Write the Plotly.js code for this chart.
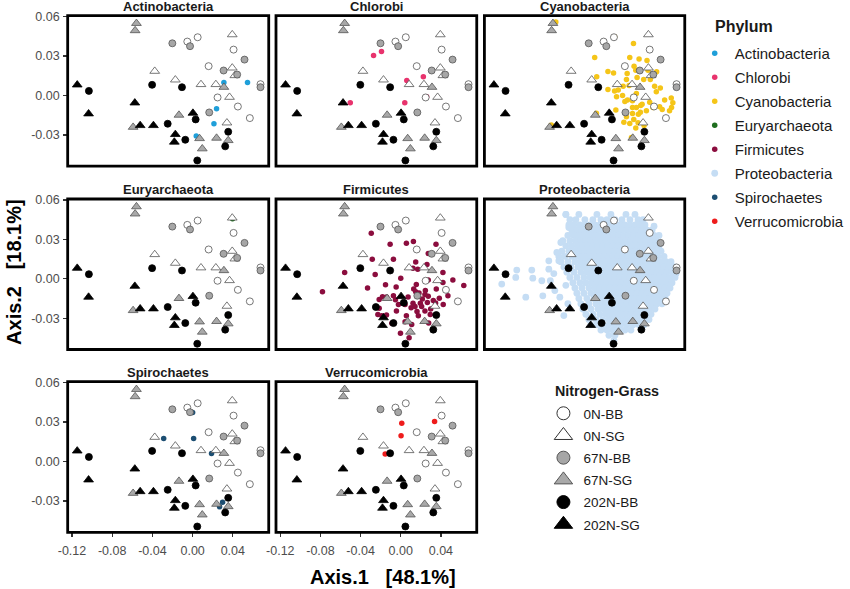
<!DOCTYPE html>
<html><head><meta charset="utf-8">
<script src="https://cdn.plot.ly/plotly-3.0.1.min.js"></script>
<style>html,body{margin:0;padding:0;background:#fff}#chart{width:850px;height:589px}</style>
</head><body><div id="chart"></div>
<script>
// ---------- categories / ticks ----------
const phyla = ['Actinobacteria','Chlorobi','Cyanobacteria','Euryarchaeota','Firmicutes','Proteobacteria','Spirochaetes','Verrucomicrobia'];
const phylumColors = ['#1F9FD9','#E8336D','#F5C518','#1F6E1F','#8B0D3E','#C5DDF4','#1C4E72','#EE1C1C'];
const groups = ['0N-BB','0N-SG','67N-BB','67N-SG','202N-BB','202N-SG'];
const xTickVals = [-0.12,-0.08,-0.04,0,0.04];
const xTickText = ['-0.12','-0.08','-0.04','0.00','0.04'];
const yTickVals = [-0.03,0,0.03,0.06];
const yTickText = ['-0.03','0.00','0.03','0.06'];
const xTitle = 'Axis.1   [48.1%]';
const yTitle = 'Axis.2   [18.1%]';

// ---------- samples (same in every panel) ----------
const s0NBBx = [-0.0053,0.0050,0.0407,0.0159,0.0675,0.0248,0.0450,0.0569];
const s0NBBy = [0.0410,0.0443,0.0349,0.0223,0.0086,-0.0015,-0.0084,-0.0172];
const s0NSGx = [0.0394,0.0394,0.0420,-0.0377,-0.0172,0.0083,0.0231,0.0367,0.0341];
const s0NSGy = [0.0463,0.0210,0.0152,0.0185,0.0119,0.0084,0.0084,-0.0013,-0.0208];
const s67NBBx = [-0.0202,-0.0026,0.0516,0.0308,0.0443,0.0675,0.0165];
const s67NBBy = [0.0397,0.0375,0.0273,0.0190,0.0159,0.0063,-0.0129];
const s67NSGx = [-0.0559,-0.0572,0.0311,-0.0136,-0.0592,0.0069,0.0096,0.0238,0.0354];
const s67NSGy = [0.0549,0.0494,0.0063,-0.0149,-0.0241,-0.0327,-0.0405,-0.0324,-0.0342];
const s202NBBx = [-0.0403,-0.0106,-0.1032,0.0030,-0.0248,-0.0073,0.0354,0.0324,0.0046];
const s202NBBy = [0.0081,0.0063,0.0035,-0.0182,-0.0215,-0.0337,-0.0276,-0.0387,-0.0494];
const s202NSGx = [-0.1148,-0.1035,-0.0575,0.0003,-0.0522,-0.0390,-0.0172,-0.0182];
const s202NSGy = [0.0081,-0.0139,-0.0056,-0.0134,-0.0228,-0.0228,-0.0296,-0.0354];

// ---------- taxa per phylum ----------
const actinoX = [0.0311,0.0546,0.0245,0.0238,0.0212,0.0036];
const actinoY = [0.0099,0.0099,-0.0013,-0.0101,-0.0215,-0.0309];
const chloroX = [0.0056,-0.0192,-0.0271,0.0225,0.0060,0.0258,0.0040,-0.0503];
const chloroY = [0.0441,0.0334,0.0304,0.0142,0.0114,-0.0010,-0.0056,-0.0056];
const cyanoX = [0.0056,0.0245,-0.0142,0.0208,0.0301,0.0380,0.0162,0.0251,-0.0010,0.0046,-0.0122,0.0182,0.0268,0.0390,0.0476,0.0175,0.0281,0.0347,0.0413,0.0202,0.0142,0.0093,-0.0010,0.0056,0.0456,0.0513,0.0671,0.0076,0.0136,0.0274,0.0473,0.0185,0.0235,0.0159,0.0331,0.0407,0.0556,0.0622,0.0638,0.0235,0.0274,0.0317,0.0374,0.0440,0.0506,0.0625,0.0069,0.0314,0.0235,0.0532,0.0605,0.0175,0.0248,0.0294,0.0572,0.0208,0.0291,0.0268,0.0351,0.0149,-0.0125,0.0225,-0.0575,-0.0530];
const cyanoY = [0.0446,0.0395,0.0289,0.0289,0.0278,0.0266,0.0223,0.0223,0.0182,0.0172,0.0142,0.0167,0.0192,0.0192,0.0180,0.0122,0.0137,0.0122,0.0122,0.0076,0.0071,0.0041,0.0046,0.0035,0.0071,0.0056,0.0086,-0.0010,0.0000,0.0015,0.0028,-0.0035,-0.0041,-0.0046,-0.0066,-0.0051,-0.0035,-0.0020,-0.0056,-0.0091,-0.0091,-0.0076,-0.0116,-0.0091,-0.0086,-0.0091,-0.0111,-0.0127,-0.0137,-0.0106,-0.0116,-0.0162,-0.0182,-0.0142,-0.0172,-0.0213,-0.0208,-0.0248,-0.0228,-0.0203,-0.0135,-0.0319,-0.0225,0.0560];
const euryX = [0.0397,0.0354];
const euryY = [0.0456,-0.0276];
const firmX = [-0.0294,-0.0106,0.0056,0.0126,0.0351,0.0274,-0.0284,-0.0073,0.0149,0.0261,0.0122,0.0169,0.0420,-0.0559,-0.0255,0.0000,0.0274,0.0519,0.0628,0.0155,-0.0152,-0.0046,-0.0331,-0.0780,0.0129,0.0245,0.0182,0.0241,0.0274,0.0470,-0.0215,-0.0182,-0.0053,0.0073,0.0122,0.0195,0.0265,0.0324,0.0384,0.0423,-0.0023,-0.0215,0.0103,0.0142,0.0162,0.0241,0.0298,0.0294,0.0354,-0.0043,-0.0142,-0.0188,0.0175,0.0043,0.0109,0.0278,-0.0003,0.0083,-0.0089,-0.0142,0.0043,0.0215,0.0208,0.0149,0.0420,0.0347,-0.0073,-0.0228,0.0056,0.0354];
const firmY = [0.0347,0.0263,0.0271,0.0284,0.0263,0.0192,0.0149,0.0149,0.0127,0.0109,0.0081,0.0073,0.0048,0.0048,0.0033,0.0005,-0.0010,-0.0010,-0.0051,-0.0043,-0.0046,-0.0063,-0.0071,-0.0099,-0.0078,-0.0089,-0.0109,-0.0119,-0.0132,-0.0129,-0.0157,-0.0137,-0.0159,-0.0139,-0.0187,-0.0187,-0.0180,-0.0165,-0.0149,-0.0195,-0.0195,-0.0225,-0.0220,-0.0210,-0.0248,-0.0246,-0.0230,-0.0271,-0.0273,-0.0246,-0.0276,-0.0281,-0.0281,-0.0327,-0.0347,-0.0337,-0.0415,-0.0448,-0.0339,-0.0139,-0.0195,-0.0154,-0.0210,-0.0099,-0.0028,-0.0185,-0.0129,-0.0271,-0.0281,-0.0078];
// Proteobacteria: dense cloud, read row by row (y level -> x positions)
const protRowY = [0.049,0.045,0.041,0.037,0.033,0.029,0.025,0.021,0.017,0.013,0.009,0.005,0.001,-0.003,-0.007,-0.011,-0.015,-0.019,-0.023,-0.027,-0.031,-0.035,-0.039,-0.043];
const protRowX = [
 [-0.043,-0.030,-0.012,0.002,0.017,0.026],
 [-0.039,-0.033,-0.024,-0.016,-0.008,-0.002,0.006,0.013,0.021,0.029,0.034],
 [-0.040,-0.035,-0.029,-0.024,-0.019,-0.014,-0.009,-0.004,0.001,0.006,0.011,0.016,0.021,0.026,0.031,0.036],
 [-0.037,-0.032,-0.027,-0.022,-0.017,-0.012,-0.007,-0.002,0.003,0.008,0.013,0.018,0.023,0.028,0.033,0.038,0.043],
 [-0.041,-0.035,-0.030,-0.025,-0.020,-0.015,-0.010,-0.005,0.000,0.005,0.010,0.015,0.020,0.025,0.030,0.035,0.040,0.045],
 [-0.046,-0.039,-0.033,-0.028,-0.023,-0.018,-0.013,-0.008,-0.003,0.002,0.007,0.012,0.017,0.022,0.027,0.032,0.037,0.042,0.047],
 [-0.043,-0.037,-0.031,-0.026,-0.021,-0.016,-0.011,-0.006,-0.001,0.004,0.009,0.014,0.019,0.024,0.029,0.034,0.039,0.044,0.050],
 [-0.047,-0.040,-0.034,-0.029,-0.024,-0.019,-0.014,-0.009,-0.004,0.001,0.006,0.011,0.016,0.021,0.026,0.031,0.036,0.041,0.046,0.052],
 [-0.050,-0.044,-0.037,-0.031,-0.026,-0.021,-0.016,-0.011,-0.006,-0.001,0.004,0.009,0.014,0.019,0.024,0.029,0.034,0.039,0.044,0.049,0.055],
 [-0.048,-0.041,-0.034,-0.028,-0.023,-0.018,-0.013,-0.008,-0.003,0.002,0.007,0.012,0.017,0.022,0.027,0.032,0.037,0.042,0.047,0.052,0.057,0.062],
 [-0.045,-0.038,-0.031,-0.025,-0.020,-0.015,-0.010,-0.005,0.000,0.005,0.010,0.015,0.020,0.025,0.030,0.035,0.040,0.045,0.050,0.055,0.060,0.066],
 [-0.042,-0.035,-0.028,-0.022,-0.017,-0.012,-0.007,-0.002,0.003,0.008,0.013,0.018,0.023,0.028,0.033,0.038,0.043,0.048,0.053,0.058,0.063],
 [-0.039,-0.032,-0.025,-0.019,-0.014,-0.009,-0.004,0.001,0.006,0.011,0.016,0.021,0.026,0.031,0.036,0.041,0.046,0.051,0.056,0.061,0.066],
 [-0.036,-0.029,-0.023,-0.017,-0.012,-0.007,-0.002,0.003,0.008,0.013,0.018,0.023,0.028,0.033,0.038,0.043,0.048,0.053,0.058,0.063],
 [-0.034,-0.027,-0.020,-0.014,-0.009,-0.004,0.001,0.006,0.011,0.016,0.021,0.026,0.031,0.036,0.041,0.046,0.051,0.056,0.061],
 [-0.032,-0.025,-0.018,-0.012,-0.007,-0.002,0.003,0.008,0.013,0.018,0.023,0.028,0.033,0.038,0.043,0.048,0.053,0.058],
 [-0.030,-0.022,-0.015,-0.009,-0.004,0.001,0.006,0.011,0.016,0.021,0.026,0.031,0.036,0.041,0.046,0.051,0.056],
 [-0.028,-0.020,-0.013,-0.007,-0.002,0.003,0.008,0.013,0.018,0.023,0.028,0.033,0.038,0.043,0.048,0.053],
 [-0.026,-0.018,-0.011,-0.005,0.000,0.005,0.010,0.015,0.020,0.025,0.030,0.035,0.040,0.046],
 [-0.023,-0.016,-0.009,-0.003,0.002,0.007,0.012,0.017,0.022,0.027,0.032,0.037,0.042],
 [-0.020,-0.013,-0.006,0.000,0.005,0.010,0.015,0.020,0.025,0.030,0.035,0.040],
 [-0.018,-0.012,-0.006,0.000,0.006,0.012,0.018,0.024,0.030,0.035],
 [-0.008,-0.002,0.004,0.010,0.016,0.022],
 [0.000,0.006]
];
const protOutX = [-0.107,-0.092,-0.093,-0.083,-0.077,-0.076,-0.067,-0.066,-0.060,-0.060,-0.0585,-0.054,-0.049,-0.048,-0.043,-0.045,-0.041,-0.050,-0.040,-0.043,-0.037,-0.052,-0.055,0.005,0.067,0.045,0.050];
const protOutY = [-0.004,0.0066,0.001,-0.014,0.0066,0.0005,-0.0015,-0.013,0.0073,0.0137,-0.0015,-0.009,-0.014,0.0276,-0.005,-0.028,-0.019,0.0137,0.039,0.049,0.034,0.020,0.004,-0.047,0.004,0.040,0.033];
const spiroX = [0.0000,-0.0288,0.0010,0.0188,0.0298,0.0268];
const spiroY = [0.0372,0.0175,0.0175,0.0061,-0.0309,-0.0344];
const verruX = [0.0010,0.0337,0.0003,-0.0155];
const verruY = [0.0291,0.0304,0.0197,0.0058];

// ---------- build tables ----------
const protX = [], protY = [];
protRowY.forEach((y, i) => protRowX[i].forEach(x => { protX.push(x); protY.push(y); }));
protOutX.forEach((x, i) => { protX.push(x); protY.push(protOutY[i]); });
const phylumX = [actinoX, chloroX, cyanoX, euryX, firmX, protX, spiroX, verruX];
const phylumY = [actinoY, chloroY, cyanoY, euryY, firmY, protY, spiroY, verruY];

const groupX = [s0NBBx, s0NSGx, s67NBBx, s67NSGx, s202NBBx, s202NSGx];
const groupY = [s0NBBy, s0NSGy, s67NBBy, s67NSGy, s202NBBy, s202NSGy];
const groupSymbol = ['circle','triangle-up','circle','triangle-up','circle','triangle-up'];
const groupFill = ['#FFFFFF','#FFFFFF','#A6A6A6','#A9A9A9','#000000','#000000'];
const groupLine = ['#555555','#555555','#555555','#555555','#000000','#000000'];
const groupSize = [7, 8.5, 7, 8.5, 7, 8.5];

const FONT = 'Liberation Sans, Arial, sans-serif';
const W = 850, H = 589;
const colPx = [[68,270],[277.3,479],[486.7,688]];
const rowPx = [[15.7,166.2],[199,349.5],[381.7,532.3]];
const panelPos = [[0,0],[0,1],[0,2],[1,0],[1,1],[1,2],[2,0],[2,1]];

const sx = [], sy = [], ssym = [], sfill = [], sline = [], ssize = [];
groups.forEach((g, gi) => {
  groupX[gi].forEach((x, k) => {
    sx.push(x); sy.push(groupY[gi][k]); ssym.push(groupSymbol[gi]);
    sfill.push(groupFill[gi]); sline.push(groupLine[gi]); ssize.push(groupSize[gi]);
  });
});

const traces = [];
const layout = {
  width: W, height: H, margin: {l:0, r:0, t:0, b:0},
  paper_bgcolor: '#fff', plot_bgcolor: 'rgba(0,0,0,0)',
  font: {family: FONT, color: '#1a1a1a'},
  showlegend: true,
  shapes: [], annotations: [],
  legend: {x: 698/W, xanchor: 'left', y: 1 - 37/H, yanchor: 'top',
    font: {size: 15, family: FONT, color: '#1a1a1a'}, tracegroupgap: 1.5,
    bgcolor: 'rgba(0,0,0,0)', borderwidth: 0, itemclick: false, itemdoubleclick: false},
  legend2: {x: 546/W, xanchor: 'left', y: 1 - 398/H, yanchor: 'top',
    font: {size: 13.5, family: FONT, color: '#1a1a1a'}, tracegroupgap: 1.65,
    bgcolor: 'rgba(0,0,0,0)', borderwidth: 0, itemclick: false, itemdoubleclick: false}
};

panelPos.forEach((rc, i) => {
  const [r, c] = rc;
  const n = i === 0 ? '' : String(i + 1);
  const xa = 'xaxis' + n, ya = 'yaxis' + n;
  const showY = c === 0, showX = r === 2;
  layout[xa] = {
    domain: [colPx[c][0]/W, colPx[c][1]/W], range: [-0.1243, 0.0757],
    anchor: 'y' + n, showgrid: false, zeroline: false, showline: false,
    tickvals: xTickVals, ticktext: xTickText,
    ticks: showX ? 'outside' : '', ticklen: 3.5, tickwidth: 1.2, tickcolor: '#333',
    showticklabels: showX, ticklabelstandoff: 3,
    tickfont: {size: 12.5, family: FONT, color: '#4D4D4D'}
  };
  layout[ya] = {
    domain: [1 - rowPx[r][1]/H, 1 - rowPx[r][0]/H], range: [-0.0538, 0.0607],
    anchor: 'x' + n, showgrid: false, zeroline: false, showline: false,
    tickvals: yTickVals, ticktext: yTickText,
    ticks: showY ? 'outside' : '', ticklen: 3.5, tickwidth: 1.2, tickcolor: '#333',
    showticklabels: showY, ticklabelstandoff: 1,
    tickfont: {size: 12.5, family: FONT, color: '#4D4D4D'}
  };
  layout.shapes.push({type: 'rect', xref: 'x' + n + ' domain', yref: 'y' + n + ' domain',
    x0: 0, x1: 1, y0: 0, y1: 1, line: {color: '#000', width: 2.8}, layer: 'above'});
  layout.annotations.push({text: '<b>' + phyla[i] + '</b>', xref: 'paper', yref: 'paper',
    x: (colPx[c][0] + colPx[c][1]) / 2 / W, y: 1 - (rowPx[r][0] - 9) / H,
    xanchor: 'center', yanchor: 'middle', showarrow: false,
    font: {size: 13, family: FONT, color: '#1a1a1a'}});

  traces.push({type: 'scatter', mode: 'markers', x: phylumX[i], y: phylumY[i],
    xaxis: 'x' + n, yaxis: 'y' + n, name: phyla[i], legend: 'legend', legendgroup: phyla[i],
    showlegend: true, hoverinfo: 'skip',
    marker: {color: phylumColors[i], size: i === 5 ? 6.8 : 5.5, opacity: 1, line: {width: 0}}});
  traces.push({type: 'scatter', mode: 'markers', x: sx, y: sy,
    xaxis: 'x' + n, yaxis: 'y' + n, showlegend: false, hoverinfo: 'skip',
    marker: {symbol: ssym, color: sfill, size: ssize, opacity: 1, line: {color: sline, width: 0.8}}});
});

// legend entries for sample groups (legend only)
const legendSizes = [13, 16, 13, 16, 13, 16];
groups.forEach((g, gi) => {
  traces.push({type: 'scatter', mode: 'markers', x: [null], y: [null], xaxis: 'x', yaxis: 'y',
    name: g, legend: 'legend2', legendgroup: g, showlegend: true, hoverinfo: 'skip',
    marker: {symbol: groupSymbol[gi], color: groupFill[gi], size: legendSizes[gi], opacity: 1,
      line: {color: gi < 2 ? '#333' : groupLine[gi], width: 1}}});
});

layout.annotations.push(
  {text: '<b>' + xTitle.replace(/ /g, '\u00A0') + '</b>', xref: 'paper', yref: 'paper',
   x: 385/W, y: 1 - 577/H, xanchor: 'center', yanchor: 'middle', showarrow: false,
   font: {size: 20, family: FONT, color: '#000'}},
  {text: '<b>' + yTitle.replace(/ /g, '\u00A0') + '</b>', xref: 'paper', yref: 'paper',
   x: 14/W, y: 1 - 272/H, xanchor: 'center', yanchor: 'middle', showarrow: false, textangle: -90,
   font: {size: 20, family: FONT, color: '#000'}},
  {text: '<b>Phylum</b>', xref: 'paper', yref: 'paper', x: 716/W, y: 1 - 27/H,
   xanchor: 'left', yanchor: 'middle', showarrow: false,
   font: {size: 16, family: FONT, color: '#1a1a1a'}},
  {text: '<b>Nitrogen-Grass</b>', xref: 'paper', yref: 'paper', x: 556/W, y: 1 - 391/H,
   xanchor: 'left', yanchor: 'middle', showarrow: false,
   font: {size: 14.3, family: FONT, color: '#1a1a1a'}}
);

Plotly.newPlot('chart', traces, layout, {displayModeBar: false, staticPlot: true});
</script></body></html>
